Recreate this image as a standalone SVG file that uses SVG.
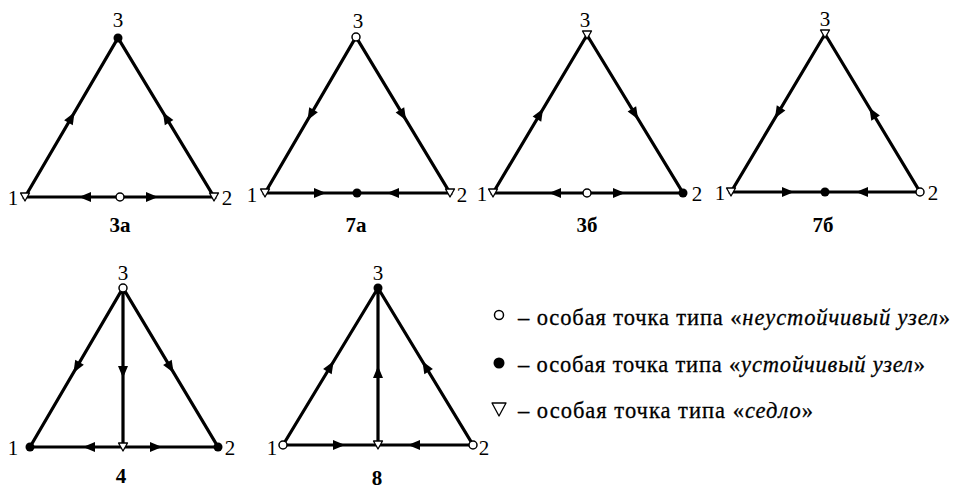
<svg xmlns="http://www.w3.org/2000/svg" xmlns:xlink="http://www.w3.org/1999/xlink" width="954" height="490" viewBox="0 0 954 490">
<style>
.edge{stroke:#000;stroke-width:3.2;fill:none;stroke-linecap:round}
.ah{fill:#000}
.uns{fill:#fff;stroke:#000;stroke-width:1.5}
.stb{fill:#000}
.sad{fill:#fff;stroke:#000;stroke-width:1.3;stroke-linejoin:round}
.num{font-family:"Liberation Serif","Times New Roman",serif;font-size:21px;fill:#000;text-anchor:middle}
.cap{font-family:"Liberation Serif","Times New Roman",serif;font-size:21px;font-weight:bold;fill:#000;text-anchor:middle}
.leg{font-family:"Liberation Serif","Times New Roman",serif;font-size:22.5px;fill:#000;stroke:#000;stroke-width:0.3}
.it{font-style:italic}
</style>
<defs>
<path id="ah" d="M6,0 L-6,-5 L-6,5 Z"/>
<circle id="nu" r="4"/>
<circle id="ns" r="4.5"/>
<path id="ns3" d="M-4.5,-4 L4.5,-4 L0,4 Z"/>
</defs>
<rect width="954" height="490" fill="#fff"/>

<!-- 3а -->
<g id="d3a">
<g id="d3a-connectors">
<path class="edge" d="M25,197 L118,38 L214,197 Z"/>
<use href="#ah" class="ah" transform="translate(71.5,117.5) rotate(-59.7)"/>
<use href="#ah" class="ah" transform="translate(166,117.5) rotate(-121.1)"/>
<use href="#ah" class="ah" transform="translate(85,197) rotate(180)"/>
<use href="#ah" class="ah" transform="translate(152,197)"/>
</g>
<g id="d3a-n3"><use href="#ns" class="stb" x="118" y="38"/><text class="num" x="118" y="27">3</text></g>
<g id="d3a-n1"><use href="#ns3" class="sad" x="25" y="197"/><text class="num" x="13" y="205">1</text></g>
<g id="d3a-n2"><use href="#ns3" class="sad" x="214" y="197"/><text class="num" x="227" y="205">2</text></g>
<g id="d3a-m"><use href="#nu" class="uns" x="120" y="197"/></g>
<text class="cap" x="120" y="232">3а</text>
</g>

<!-- 7а -->
<g id="d7a">
<g id="d7a-connectors">
<path class="edge" d="M265,193 L356,37 L450,193 Z"/>
<use href="#ah" class="ah" transform="translate(310.5,115) rotate(120.3)"/>
<use href="#ah" class="ah" transform="translate(403,115) rotate(58.9)"/>
<use href="#ah" class="ah" transform="translate(320,193)"/>
<use href="#ah" class="ah" transform="translate(393,193) rotate(180)"/>
</g>
<g id="d7a-n3"><use href="#nu" class="uns" x="356" y="37"/><text class="num" x="358" y="28">3</text></g>
<g id="d7a-n1"><use href="#ns3" class="sad" x="265" y="193"/><text class="num" x="252" y="202">1</text></g>
<g id="d7a-n2"><use href="#ns3" class="sad" x="450" y="193"/><text class="num" x="462" y="202">2</text></g>
<g id="d7a-m"><use href="#ns" class="stb" x="357" y="193"/></g>
<text class="cap" x="356" y="232">7а</text>
</g>

<!-- 3б -->
<g id="d3b">
<g id="d3b-connectors">
<path class="edge" d="M493,193 L587,35 L683,193 Z"/>
<use href="#ah" class="ah" transform="translate(540,114) rotate(-59.25)"/>
<use href="#ah" class="ah" transform="translate(635,114) rotate(58.7)"/>
<use href="#ah" class="ah" transform="translate(555,193) rotate(180)"/>
<use href="#ah" class="ah" transform="translate(619,193)"/>
</g>
<g id="d3b-n3"><use href="#ns3" class="sad" x="587" y="35"/><text class="num" x="585" y="27">3</text></g>
<g id="d3b-n1"><use href="#ns3" class="sad" x="493" y="193"/><text class="num" x="482" y="201">1</text></g>
<g id="d3b-n2"><use href="#ns" class="stb" x="683" y="193"/><text class="num" x="697" y="201">2</text></g>
<g id="d3b-m"><use href="#nu" class="uns" x="587" y="193"/></g>
<text class="cap" x="587" y="232">3б</text>
</g>

<!-- 7б -->
<g id="d7b">
<g id="d7b-connectors">
<path class="edge" d="M731,192 L825,34 L920,192 Z"/>
<use href="#ah" class="ah" transform="translate(778,113) rotate(120.75)"/>
<use href="#ah" class="ah" transform="translate(872.5,113) rotate(-121)"/>
<use href="#ah" class="ah" transform="translate(788,192)"/>
<use href="#ah" class="ah" transform="translate(862,192) rotate(180)"/>
</g>
<g id="d7b-n3"><use href="#ns3" class="sad" x="825" y="34"/><text class="num" x="825" y="26">3</text></g>
<g id="d7b-n1"><use href="#ns3" class="sad" x="731" y="192"/><text class="num" x="720" y="200">1</text></g>
<g id="d7b-n2"><use href="#nu" class="uns" x="920" y="192"/><text class="num" x="933" y="200">2</text></g>
<g id="d7b-m"><use href="#ns" class="stb" x="825" y="192"/></g>
<text class="cap" x="823" y="232">7б</text>
</g>

<!-- 4 -->
<g id="d4">
<g id="d4-connectors">
<path class="edge" d="M30,447 L123,288 L218,447 Z M123,288 L123,447"/>
<use href="#ah" class="ah" transform="translate(76.5,367.5) rotate(120.3)"/>
<use href="#ah" class="ah" transform="translate(170.5,367.5) rotate(59.1)"/>
<use href="#ah" class="ah" transform="translate(123,372) rotate(90)"/>
<use href="#ah" class="ah" transform="translate(89,447) rotate(180)"/>
<use href="#ah" class="ah" transform="translate(156,447)"/>
</g>
<g id="d4-n3"><use href="#nu" class="uns" x="123" y="288"/><text class="num" x="123" y="280">3</text></g>
<g id="d4-n1"><use href="#ns" class="stb" x="30" y="447"/><text class="num" x="13" y="455">1</text></g>
<g id="d4-n2"><use href="#ns" class="stb" x="218" y="447"/><text class="num" x="230" y="455">2</text></g>
<g id="d4-m"><use href="#ns3" class="sad" x="123" y="447"/></g>
<text class="cap" x="121" y="483">4</text>
</g>

<!-- 8 -->
<g id="d8">
<g id="d8-connectors">
<path class="edge" d="M283,445 L378,288 L473,445 Z M378,288 L378,445"/>
<use href="#ah" class="ah" transform="translate(330.5,366.5) rotate(-58.8)"/>
<use href="#ah" class="ah" transform="translate(425.5,366.5) rotate(-121.2)"/>
<use href="#ah" class="ah" transform="translate(378,372) rotate(-90)"/>
<use href="#ah" class="ah" transform="translate(339,445)"/>
<use href="#ah" class="ah" transform="translate(414,445) rotate(180)"/>
</g>
<g id="d8-n3"><use href="#ns" class="stb" x="378" y="288"/><text class="num" x="378" y="280">3</text></g>
<g id="d8-n1"><use href="#nu" class="uns" x="283" y="445"/><text class="num" x="272" y="455">1</text></g>
<g id="d8-n2"><use href="#nu" class="uns" x="473" y="445"/><text class="num" x="484" y="455">2</text></g>
<g id="d8-m"><use href="#ns3" class="sad" x="378" y="445"/></g>
<text class="cap" x="377" y="485">8</text>
</g>

<!-- legend -->
<g id="legend">
<g id="leg-unstable">
<circle cx="499" cy="315" r="4.5" class="uns"/>
<text class="leg" x="518" y="325" textLength="432" lengthAdjust="spacing">– особая точка типа «<tspan class="it">неустойчивый узел</tspan>»</text>
</g>
<g id="leg-stable">
<circle cx="499" cy="363" r="5.5" class="stb"/>
<text class="leg" x="518" y="372" textLength="407" lengthAdjust="spacing">– особая точка типа «<tspan class="it">устойчивый узел</tspan>»</text>
</g>
<g id="leg-saddle">
<path d="M492,403 L506,403 L499,416 Z" class="sad"/>
<text class="leg" x="518" y="418" textLength="295" lengthAdjust="spacing">– особая точка типа «<tspan class="it">седло</tspan>»</text>
</g>
</g>
</svg>
